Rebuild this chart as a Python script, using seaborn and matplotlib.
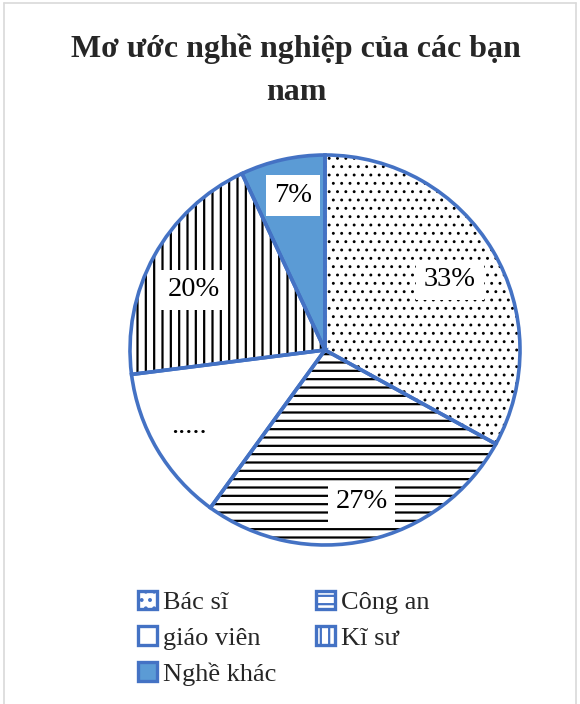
import matplotlib
matplotlib.use("Agg")
import matplotlib.pyplot as plt
from matplotlib.patches import Patch
from matplotlib.lines import Line2D
import numpy as np
import seaborn as sns

# Career aspirations of the boys in the class
categories = ["Bác sĩ", "Công an", "giáo viên", "Kĩ sư", "Nghề khác"]
shares = [33, 27, 13, 20, 7]
slice_labels = ["33%", "27%", ".....", "20%", "7%"]
title_lines = ["Mơ ước nghề nghiệp của các bạn", "nam"]

sns.set_theme(style="white")
plt.rcParams["font.family"] = ["Liberation Serif", "DejaVu Serif"]
plt.rcParams["hatch.linewidth"] = 1.6

W, H = 580, 704
edge_blue = "#4472C4"
fills = ["white", "white", "white", "white", "#5B9BD5"]
hatches = ["..", "--", "", "||", ""]
hatch_widths = [0.9, 1.6, 1.6, 1.6, 1.6]
label_radius = [0.735, 0.80, 0.80, 0.74, 0.81]
label_shift = [-1.3, 1.0, -1.4, 4.2, -0.9]

fig = plt.figure(figsize=(W / 100, H / 100), dpi=100)
fig.patch.set_facecolor("white")

# light frame around the chart area
for xs, ys in [((4, 4), (H, 3)), ((4, 576), (3, 3)), ((576, 576), (3, H))]:
    fig.add_artist(Line2D([x / W for x in xs], [1 - y / H for y in ys],
                          transform=fig.transFigure, color="#D9D9D9", lw=1.2))

ax = fig.add_axes([130 / W, (H - 350 - 195) / H, 390 / W, 390 / H])
ax.set_aspect("equal")

# hatched fill layer (black pattern)
wedges, _ = ax.pie(shares, startangle=90, counterclock=False, colors=fills,
                   wedgeprops=dict(edgecolor="black", linewidth=0))
for w, h, hw in zip(wedges, hatches, hatch_widths):
    w.set_hatch(h)
    w.set_linewidth(0)
    if hasattr(w, "set_hatch_linewidth"):
        w.set_hatch_linewidth(hw)

# blue outlines on top
outline, _ = ax.pie(shares, startangle=90, counterclock=False,
                    wedgeprops=dict(facecolor="none", edgecolor=edge_blue,
                                    linewidth=2.6))
for w in outline:
    w.set_clip_on(False)

for w, txt, r, s in zip(wedges, slice_labels, label_radius, label_shift):
    mid = np.deg2rad((w.theta1 + w.theta2) / 2 + s)
    ax.text(r * np.cos(mid), r * np.sin(mid), txt, ha="center", va="center",
            fontsize=20.5, color="black",
            bbox=dict(facecolor="white", edgecolor="none", pad=5.5))

ax.set_xlim(-1.0, 1.0)
ax.set_ylim(-1.0, 1.0)
ax.axis("off")

for line, base in zip(title_lines, [57, 100]):
    fig.text(296 / W, 1 - base / H, line, ha="center", va="baseline",
             fontsize=23, fontweight="bold")

handles = [Patch(facecolor=f, edgecolor=edge_blue, hatch=h, linewidth=2.4,
                 joinstyle="round", label=c)
           for c, f, h in zip(categories, fills, hatches)]
order = [0, 2, 4, 1, 3]
fig.legend([handles[i] for i in order], [categories[i] for i in order],
           ncol=2, loc="upper left", bbox_to_anchor=(127 / W, 1 - 580 / H),
           frameon=False, fontsize=19, handlelength=0.72, handleheight=0.7,
           handletextpad=0.25, columnspacing=1.48, labelspacing=0.47,
           borderaxespad=0)

fig.savefig("out.png", dpi=100, facecolor="white")
